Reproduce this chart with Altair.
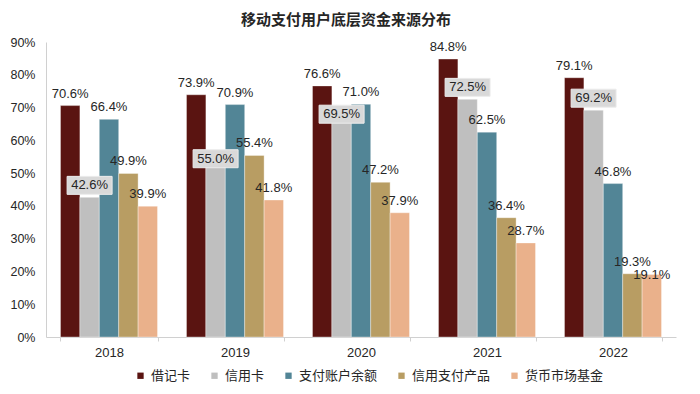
import altair as alt
import pandas as pd

years = ["2018", "2019", "2020", "2021", "2022"]
series = ["借记卡", "信用卡", "支付账户余额", "信用支付产品", "货币市场基金"]
debit = [70.6, 73.9, 76.6, 84.8, 79.1]
credit = [42.6, 55.0, 69.5, 72.5, 69.2]
account = [66.4, 70.9, 71.0, 62.5, 46.8]
credit_pay = [49.9, 55.4, 47.2, 36.4, 19.3]
mmf = [39.9, 41.8, 37.9, 28.7, 19.1]
colors = ["#5A1411", "#BFBFBF", "#528596", "#B89D63", "#EAB18B"]

rows = []
for s, vals in zip(series, [debit, credit, account, credit_pay, mmf]):
    for y, v in zip(years, vals):
        rows.append({"year": y, "series": s, "value": v})
df = pd.DataFrame(rows)

NUM_FONT = "Liberation Sans"
CJK_FONT = "Noto Sans CJK SC"
TXT = "#262626"
AX = "#D0D0D0"

# label nudges (pixels, center of label relative to bar top)
DEFAULT_DY = -12
NUDGE = {"2019|信用卡": 2, "2020|信用卡": 5, "2022|货币市场基金": 1}
BOXED = "信用卡"

base = alt.Chart(df).transform_calculate(
    key="datum.year + '|' + datum.series",
    label="format(datum.value, '.1f') + '%'",
).encode(
    x=alt.X("year:N", sort=years,
            scale=alt.Scale(paddingInner=0.23, paddingOuter=0.115),
            axis=alt.Axis(title=None, labelAngle=0, tickBand="extent", domainColor=AX,
                          tickColor=AX, tickSize=4, labelPadding=5, labelFont=NUM_FONT,
                          labelFontSize=13, labelColor=TXT)),
    xOffset=alt.XOffset("series:N", sort=series,
                        scale=alt.Scale(paddingInner=0, paddingOuter=0)),
    y=alt.Y("value:Q", scale=alt.Scale(domain=[0, 90], nice=False),
            axis=alt.Axis(title=None, values=list(range(0, 100, 10)),
                          labelExpr="datum.value + '%'", grid=False, ticks=False,
                          domainColor=AX, labelPadding=11, labelFont=NUM_FONT,
                          labelFontSize=12.5, labelColor=TXT)),
)

bars = base.mark_bar(stroke="white", strokeWidth=0.5, strokeOpacity=0.7).encode(
    color=alt.Color("series:N", sort=series,
                    scale=alt.Scale(domain=series, range=colors),
                    legend=alt.Legend(title=None, orient="none", direction="horizontal",
                                      legendX=88, legendY=327, symbolType="square",
                                      symbolSize=40, symbolStrokeWidth=0,
                                      labelFont=CJK_FONT, labelFontSize=13,
                                      labelColor=TXT, labelOffset=4, columnPadding=17,
                                      padding=0))
)

layers = [bars]
offsets = {}
for k, v in NUDGE.items():
    offsets.setdefault(v, []).append(k)

def keys_expr(keys):
    return "indexof(" + str(keys).replace("'", '"') + ", datum.key) >= 0"

all_nudged = list(NUDGE.keys())
groups = [(DEFAULT_DY, "!(" + keys_expr(all_nudged) + ")")]
for off, keys in offsets.items():
    groups.append((off, keys_expr(keys)))

box_shape = "M-1,-0.4L1,-0.4L1,0.4L-1,0.4Z"
for off, cond in groups:
    layers.append(
        base.transform_filter(cond).transform_filter(f"datum.series == '{BOXED}'")
        .mark_point(shape=box_shape, filled=True, fill="#D9D9D9", stroke="#ECECEC",
                    strokeWidth=1, opacity=1, size=2025, yOffset=off)
    )
for off, cond in groups:
    layers.append(
        base.transform_filter(cond)
        .mark_text(dy=off, baseline="middle", align="center", font=NUM_FONT,
                   fontSize=13, color=TXT)
        .encode(text="label:N")
    )

chart = alt.layer(*layers).properties(
    width=630,
    height=295,
    autosize=alt.AutoSizeParams(type="none"),
    padding={"left": 38, "top": 34, "right": 16, "bottom": 49},
    title=alt.TitleParams("移动支付用户底层资金来源分布", font=CJK_FONT, fontSize=15,
                          fontWeight="bold", color=TXT, anchor="middle", dx=-15,
                          offset=8),
).configure_view(stroke=None)

chart.save("out.html", embed_options={"renderer": "svg", "actions": False})
